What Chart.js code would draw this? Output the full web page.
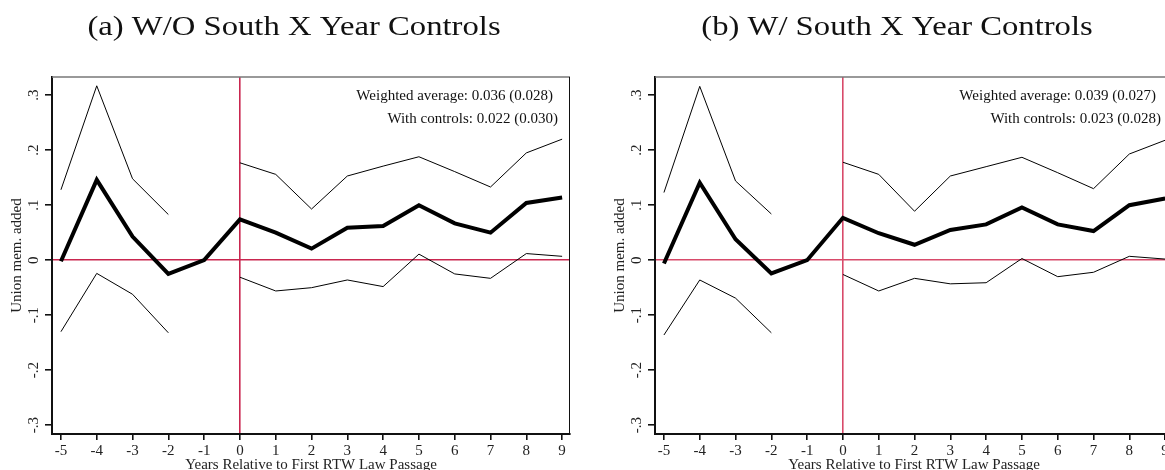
<!DOCTYPE html>
<html>
<head>
<meta charset="utf-8">
<script src="https://cdn.jsdelivr.net/npm/chart.js@4.4.1/dist/chart.umd.min.js"></script>
<style>
  html, body { margin: 0; padding: 0; background: #fff; }
  #wrap { position: relative; width: 1165px; height: 470px; overflow: hidden; }
  #wrap canvas { position: absolute; top: 0; }
  #chartA { left: 0; }
  #chartB { left: 603px; }
</style>
</head>
<body>
<div id="wrap">
  <canvas id="chartA" width="588" height="470"></canvas>
  <canvas id="chartB" width="588" height="470"></canvas>
</div>
<script>
// Years relative to the first RTW law passage
const years = [-5, -4, -3, -2, -1, 0, 1, 2, 3, 4, 5, 6, 7, 8, 9];

// (a) without South x Year controls
const aPoint = [-0.002, 0.146, 0.043, -0.025, 0, 0.074, 0.050, 0.021, 0.059, 0.062, 0.100, 0.067, 0.050, 0.104, 0.114];
const aUpper = [0.128, 0.317, 0.148, 0.083, null, 0.177, 0.156, 0.093, 0.153, 0.171, 0.188, 0.161, 0.133, 0.195, 0.220];
const aLower = [-0.130, -0.024, -0.062, -0.132, null, -0.031, -0.056, -0.050, -0.036, -0.048, 0.011, -0.025, -0.033, 0.012, 0.007];

// (b) with South x Year controls
const bPoint = [-0.006, 0.141, 0.038, -0.024, 0, 0.077, 0.049, 0.028, 0.055, 0.065, 0.096, 0.065, 0.053, 0.100, 0.112];
const bUpper = [0.123, 0.316, 0.144, 0.084, null, 0.178, 0.156, 0.089, 0.153, 0.170, 0.187, 0.159, 0.130, 0.193, 0.218];
const bLower = [-0.136, -0.036, -0.069, -0.132, null, -0.026, -0.056, -0.033, -0.043, -0.041, 0.003, -0.030, -0.022, 0.007, 0.002];

const titleA = '(a) W/O South X Year Controls';
const titleB = '(b) W/ South X Year Controls';
const notesA = ['Weighted average: 0.036 (0.028)', 'With controls: 0.022 (0.030)'];
const notesB = ['Weighted average: 0.039 (0.027)', 'With controls: 0.023 (0.028)'];

const yTicks = { min: -0.316, max: 0.333, step: 0.1 };
const xTicks = { min: -5.25, max: 9.22, step: 1 };

Chart.defaults.font.family = "'Liberation Serif', 'Times New Roman', serif";
Chart.defaults.font.size = 15;
Chart.defaults.color = '#222';

function fmtY(v) {
    const r = Math.round(v * 10) / 10;
    if (r === 0) return '0';
    return (r < 0 ? '-' : '') + Math.abs(r).toFixed(1).replace(/^0/, '');
}

function toPoints(values) {
    return years.map((x, i) => ({ x: x, y: values[i] }));
}

// Frame, panel title and the two notes in the top right corner
const panelPlugin = {
    id: 'panel',
    afterDatasetsDraw(chart, args, opts) {
        const { ctx, chartArea: a } = chart;
        ctx.save();
        ctx.strokeStyle = '#777';
        ctx.lineWidth = 1.5;
        ctx.beginPath();
        ctx.moveTo(a.left, a.top);
        ctx.lineTo(a.right, a.top);
        ctx.stroke();
        ctx.strokeStyle = '#111';
        ctx.lineWidth = 1;
        ctx.beginPath();
        ctx.moveTo(a.right - 0.5, a.top);
        ctx.lineTo(a.right - 0.5, a.bottom);
        ctx.stroke();
        ctx.restore();
    },
    afterDraw(chart, args, opts) {
        const { ctx, chartArea: a } = chart;
        ctx.save();
        ctx.fillStyle = '#111';
        ctx.font = "15px 'Liberation Serif', serif";
        ctx.textAlign = 'right';
        ctx.textBaseline = 'alphabetic';
        ctx.fillText(opts.notes[0], a.right - 17, 100);
        ctx.fillText(opts.notes[1], a.right - 12, 123);

        // title, stretched a little to get the width of the LaTeX face
        ctx.font = "27px 'Liberation Serif', serif";
        ctx.textAlign = 'center';
        ctx.translate(chart.width / 2, 35);
        ctx.scale(1.21, 1);
        ctx.fillText(opts.title, 0, 0);
        ctx.restore();
    }
};

function makeChart(id, point, upper, lower, title, notes, red) {
    const zeroColor = (c) => (c.tick && c.tick.value === 0 ? red : 'rgba(0,0,0,0)');
    return new Chart(document.getElementById(id), {
        type: 'line',
        data: {
            datasets: [
                { data: toPoints(upper), borderColor: '#000', borderWidth: 1 },
                { data: toPoints(lower), borderColor: '#000', borderWidth: 1 },
                { data: toPoints(point), borderColor: '#000', borderWidth: 4 }
            ]
        },
        options: {
            responsive: false,
            animation: false,
            spanGaps: false,
            elements: {
                point: { radius: 0 },
                line: { tension: 0, fill: false, borderJoinStyle: 'miter' }
            },
            layout: { padding: { top: 77, right: 18, bottom: 0, left: 0 } },
            plugins: {
                legend: { display: false },
                tooltip: { enabled: false },
                panel: { title: title, notes: notes }
            },
            scales: {
                x: {
                    type: 'linear',
                    min: xTicks.min,
                    max: xTicks.max,
                    afterFit: (s) => { s.height = 36; },
                    ticks: { stepSize: xTicks.step, includeBounds: false, padding: 2, color: '#222', maxRotation: 0 },
                    grid: { color: zeroColor, lineWidth: 1.6, tickColor: '#111', tickLength: 6 },
                    border: { display: true, color: '#111', width: 2 },
                    title: {
                        display: true,
                        text: 'Years Relative to First RTW Law Passage',
                        color: '#222',
                        font: { size: 15, lineHeight: 1 },
                        padding: { top: 0, bottom: -3 }
                    }
                },
                y: {
                    type: 'linear',
                    min: yTicks.min,
                    max: yTicks.max,
                    afterFit: (s) => { s.width = 52; },
                    ticks: {
                        stepSize: yTicks.step,
                        includeBounds: false,
                        minRotation: 90,
                        maxRotation: 90,
                        crossAlign: 'center',
                        padding: 3,
                        color: '#222',
                        callback: fmtY
                    },
                    grid: { color: zeroColor, lineWidth: 1.6, tickColor: '#111', tickLength: 7 },
                    border: { display: true, color: '#111', width: 2 },
                    title: {
                        display: true,
                        text: 'Union mem. added',
                        color: '#222',
                        font: { size: 15, lineHeight: 1 },
                        padding: { top: 10, bottom: 0 }
                    }
                }
            }
        },
        plugins: [panelPlugin]
    });
}

makeChart('chartA', aPoint, aUpper, aLower, titleA, notesA, '#c9264f');
makeChart('chartB', bPoint, bUpper, bLower, titleB, notesB, '#d84a6a');
</script>
</body>
</html>
